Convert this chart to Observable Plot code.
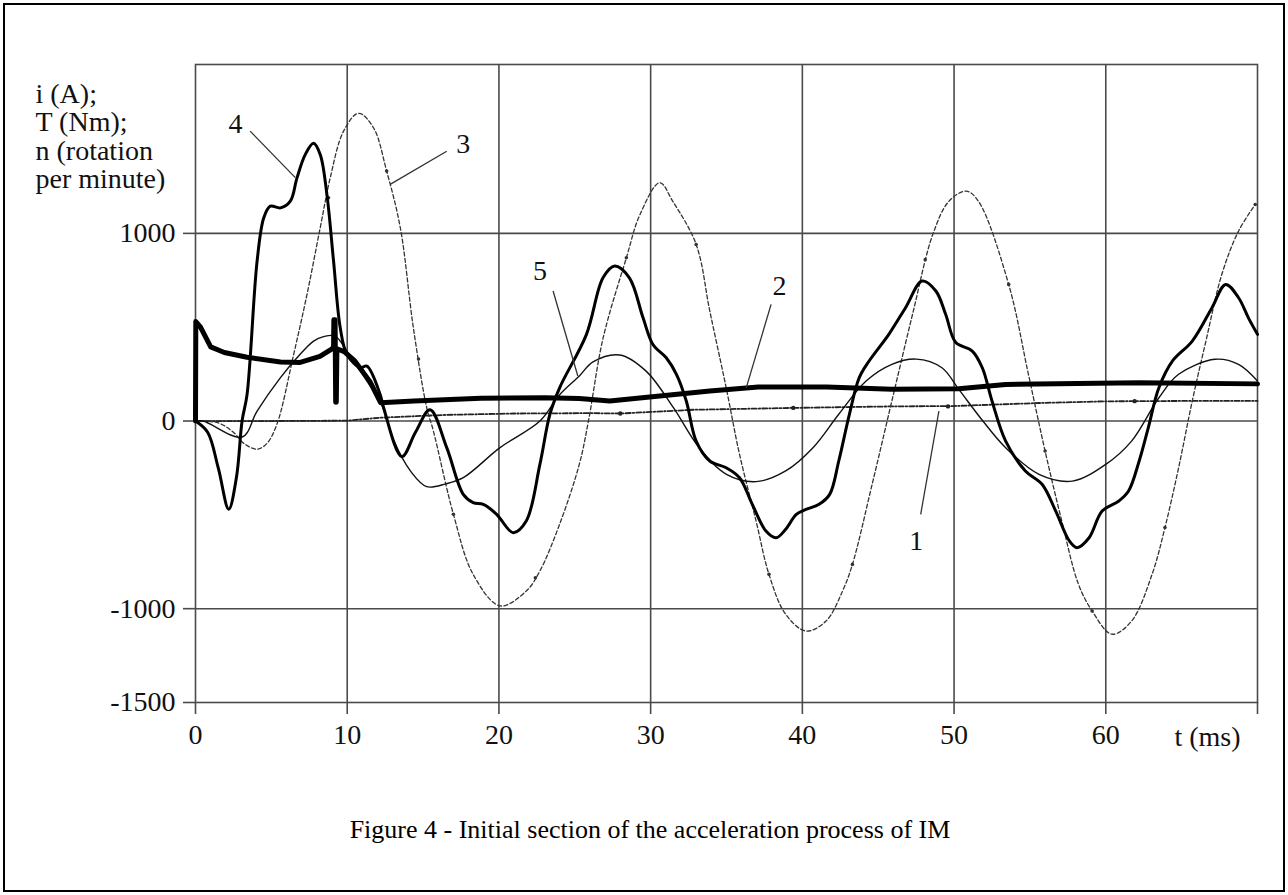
<!DOCTYPE html>
<html>
<head>
<meta charset="utf-8">
<script src="https://cdn.jsdelivr.net/npm/d3@7"></script>
<script src="https://cdn.jsdelivr.net/npm/@observablehq/plot@0.6"></script>
<style>
  html, body { margin: 0; padding: 0; background: #fff; }
  #page { position: relative; width: 1288px; height: 895px; overflow: hidden; font-family: "Liberation Serif", "Times New Roman", serif; }
  #frame { position: absolute; left: 3px; top: 3px; width: 1278px; height: 885px; border: 2.5px solid #000; pointer-events: none; }
  #chart { position: absolute; left: 0; top: 0; }
  #caption { position: absolute; left: 0; width: 1300px; top: 815px; text-align: center; font-size: 26px; color: #000; }
</style>
</head>
<body>
<div id="page">
  <div id="chart"></div>
  <div id="caption">Figure 4 - Initial section of the acceleration process of IM</div>
  <div id="frame"></div>
</div>
<script>
// ---- tick values ----
const xTicks = [0, 10, 20, 30, 40, 50, 60, 70];
const xGrid = [10, 20, 30, 40, 50, 60];
const yTicks = [-1500, -1000, 0, 1000];
const yGrid = [-1000, 0, 1000];

// ---- series: [t (ms), value] ----
// 1: rotation speed (dash-dot)
const curve1 = [[0,0],[5,0],[10,2],[12.2,18],[16.6,33],[21,40],[26,42],[28,40],[32.8,60],[39.4,70],[45.9,78],[50,80],[55.6,96],[60,105],[65,107],[70,107]];
const curve1Markers = [[28,40],[39.4,70],[49.6,78],[61.9,106]];
// 2: torque (thick)
const curve2 = [[0,0],[0.02,530],[0.33,500],[1,395],[1.9,365],[3.4,340],[5.6,315],[6.9,312],[8.2,345],[9.0,385],[9.1,395],[9.12,540],[9.2,540],[9.24,100],[9.28,100],[9.32,385],[9.8,370],[10.5,320],[11.5,210],[12.2,98],[14.4,107],[18.8,122],[23,124],[25.3,120],[27.3,107],[30.6,133],[33.9,160],[37.1,181],[41.6,181],[45.9,170],[50.3,172],[53.4,195],[62.2,204],[70,198]];
// 3: dashed large oscillation
const curve3 = [[0,0],[1.5,-10],[2.5,-60],[3.2,-120],[4.06,-150],[4.7,-120],[5.37,-16],[6.47,355],[7.35,675],[8.22,1030],[8.88,1296],[9.76,1545],[10.75,1640],[11.73,1563],[12.6,1332],[13.5,1030],[14.36,497],[15.24,71],[15.68,-53],[17.0,-497],[18.3,-817],[20.07,-985],[21.8,-906],[22.7,-799],[24.0,-550],[25.3,-230],[25.9,0],[26.86,440],[28.4,870],[29.3,1101],[30.6,1270],[31.45,1172],[33.0,941],[33.9,586],[34.98,177],[35.86,-178],[36.95,-533],[37.8,-817],[38.9,-1030],[40.24,-1119],[41.56,-1066],[42.65,-906],[43.3,-764],[44.6,-337],[45.9,107],[47.26,568],[48.6,995],[49.67,1172],[50.8,1225],[51.6,1172],[53.6,728],[54.9,249],[56.0,-160],[57.1,-533],[58.2,-870],[59.1,-1012],[60.4,-1136],[61.7,-1066],[63.05,-817],[63.9,-568],[64.8,-249],[65.7,107],[66.6,426],[67.65,782],[68.75,1012],[69.85,1154]];
const curve3Markers = [[8.77,1190],[12.6,1332],[14.7,330],[17.0,-497],[22.4,-835],[28.4,870],[33.0,941],[37.8,-817],[43.3,-764],[48.1,860],[53.6,728],[56.0,-160],[59.1,-1012],[63.9,-568],[69.85,1154]];
// 4: current (medium solid)
const curve4 = [[0,0],[0.8,-60],[1.5,-250],[2.19,-470],[2.7,-300],[3.07,0],[3.4,142],[4.06,852],[4.5,1083],[4.93,1145],[5.6,1136],[6.25,1172],[6.69,1296],[7.24,1421],[7.78,1480],[8.22,1420],[8.66,1208],[9.1,852],[9.54,497],[9.98,356],[10.86,284],[11.3,293],[12.17,142],[12.4,71],[13.6,-190],[14.5,-60],[15.46,60],[16.56,-142],[17.65,-391],[18.3,-435],[18.97,-444],[19.85,-497],[20.94,-595],[21.8,-533],[22.7,-231],[23.36,36],[24.0,177],[25.77,462],[26.86,763],[27.63,826],[28.6,763],[29.5,550],[30.15,408],[31.03,337],[31.7,249],[32.35,107],[33.0,-107],[33.9,-213],[34.98,-249],[35.86,-302],[36.7,-444],[37.6,-586],[38.27,-622],[38.9,-577],[39.6,-497],[40.24,-471],[41.1,-444],[41.8,-391],[42.4,-213],[43.1,36],[43.75,231],[44.4,320],[45.7,462],[46.8,604],[47.9,746],[48.8,693],[49.45,568],[50.1,420],[51.2,373],[51.86,284],[52.5,107],[53.4,-107],[54.7,-266],[55.8,-337],[56.7,-480],[57.6,-639],[58.1,-675],[58.9,-622],[59.76,-480],[60.86,-426],[61.5,-373],[62.2,-213],[62.8,-36],[63.5,177],[64.4,320],[65.7,426],[67.0,604],[67.9,728],[68.75,657],[69.4,550],[70,462]];
// 5: thin solid
const curve5 = [[0,0],[0.5,0],[3.07,-85],[4.06,53],[5.6,231],[6.69,337],[7.78,426],[8.44,450],[9.2,453],[10,370],[11.3,213],[12.2,100],[13.05,-100],[14.2,-270],[15.24,-350],[16.5,-335],[17.65,-302],[20.07,-142],[22.7,0],[24.0,140],[25.3,240],[26.2,315],[27.96,352],[29.7,266],[31.5,71],[33.2,-142],[35.0,-284],[36.95,-323],[38.9,-266],[40.7,-142],[42.4,36],[44.2,213],[45.9,302],[47.5,330],[49.2,284],[50.3,170],[51.9,0],[53.4,-142],[55.6,-284],[57.8,-320],[60.0,-231],[61.7,-107],[63.5,124],[64.8,249],[67.2,329],[68.75,302],[70,213]];

// ---- curve number labels and leader lines ----
const labelText = ["1", "2", "3", "4", "5"];
const labelT = [47.5, 38.5, 17.65, 2.63, 22.7];
const labelV = [-639, 719, 1474, 1582, 799];
const leaderT1 = [47.8, 37.94, 16.56, 3.6, 23.57];
const leaderV1 = [-497, 622, 1438, 1545, 693];
const leaderT2 = [49.0, 36.3, 12.83, 6.58, 25.2];
const leaderV2 = [53, 177, 1261, 1297, 240];

const labels = labelText.map((s, i) => ({s, t: labelT[i], v: labelV[i]}));
const leaders = labelText.map((s, i) => ({t1: leaderT1[i], v1: leaderV1[i], t2: leaderT2[i], v2: leaderV2[i]}));

const yTitle = "i (A);\nT (Nm);\nn (rotation\nper minute)";
const xTitle = "t (ms)";

const xy = {x: d => d[0], y: d => d[1]};
const gridStyle = {stroke: "#4a4a4a", strokeOpacity: 1, strokeWidth: 1.6};

const chart = Plot.plot({
  width: 1288,
  height: 752,
  marginLeft: 195,
  marginRight: 31,
  marginTop: 64,
  marginBottom: 50,
  x: {domain: [0, 70], label: null},
  y: {domain: [-1500, 1900], label: null},
  style: {fontFamily: "'Liberation Serif', 'Times New Roman', serif", fontSize: "28px", color: "#111", background: "transparent", overflow: "visible"},
  marks: [
    Plot.gridX(xGrid, gridStyle),
    Plot.gridY(yGrid, gridStyle),
    Plot.frame({stroke: "#4a4a4a", strokeWidth: 1.6}),
    Plot.axisX(xTicks, {tickSize: 12, tickPadding: 10, strokeWidth: 1.6, stroke: "#4a4a4a", tickFormat: d => d === 70 ? "" : String(d), fontSize: 28, fill: "#111"}),
    Plot.axisY(yTicks, {tickSize: 12, tickPadding: 8, strokeWidth: 1.6, stroke: "#4a4a4a", tickFormat: d => String(d), fontSize: 28, fill: "#111"}),
    Plot.text([xTitle], {x: () => 66.7, y: () => -1500, text: d => d, dy: 35, fontSize: 28, fill: "#111"}),
    Plot.text([yTitle], {frameAnchor: "top-left", text: d => d, textAnchor: "start", lineAnchor: "top", lineHeight: 1.02, dx: -160, dy: 18, fontSize: 28, fill: "#111"}),
    Plot.line(curve1, {...xy, stroke: "#222", strokeWidth: 1.8, strokeDasharray: "5,2,1.5,2"}),
    Plot.dot(curve1Markers, {...xy, r: 2.2, fill: "#222", stroke: "none"}),
    Plot.line(curve3, {...xy, stroke: "#333", strokeWidth: 1.3, strokeDasharray: "4,2.5", curve: "catmull-rom"}),
    Plot.dot(curve3Markers, {...xy, r: 1.8, fill: "#333", stroke: "none"}),
    Plot.line(curve5, {...xy, stroke: "#111", strokeWidth: 1.4, curve: "catmull-rom"}),
    Plot.line(curve4, {...xy, stroke: "#000", strokeWidth: 3, curve: "catmull-rom"}),
    Plot.line(curve2, {...xy, stroke: "#000", strokeWidth: 5, strokeLinejoin: "round"}),
    Plot.link(leaders, {x1: "t1", y1: "v1", x2: "t2", y2: "v2", stroke: "#333", strokeWidth: 1.3}),
    Plot.text(labels, {x: "t", y: "v", text: "s", fontSize: 28, fill: "#111"})
  ]
});
document.getElementById("chart").appendChild(chart);
</script>
</body>
</html>
